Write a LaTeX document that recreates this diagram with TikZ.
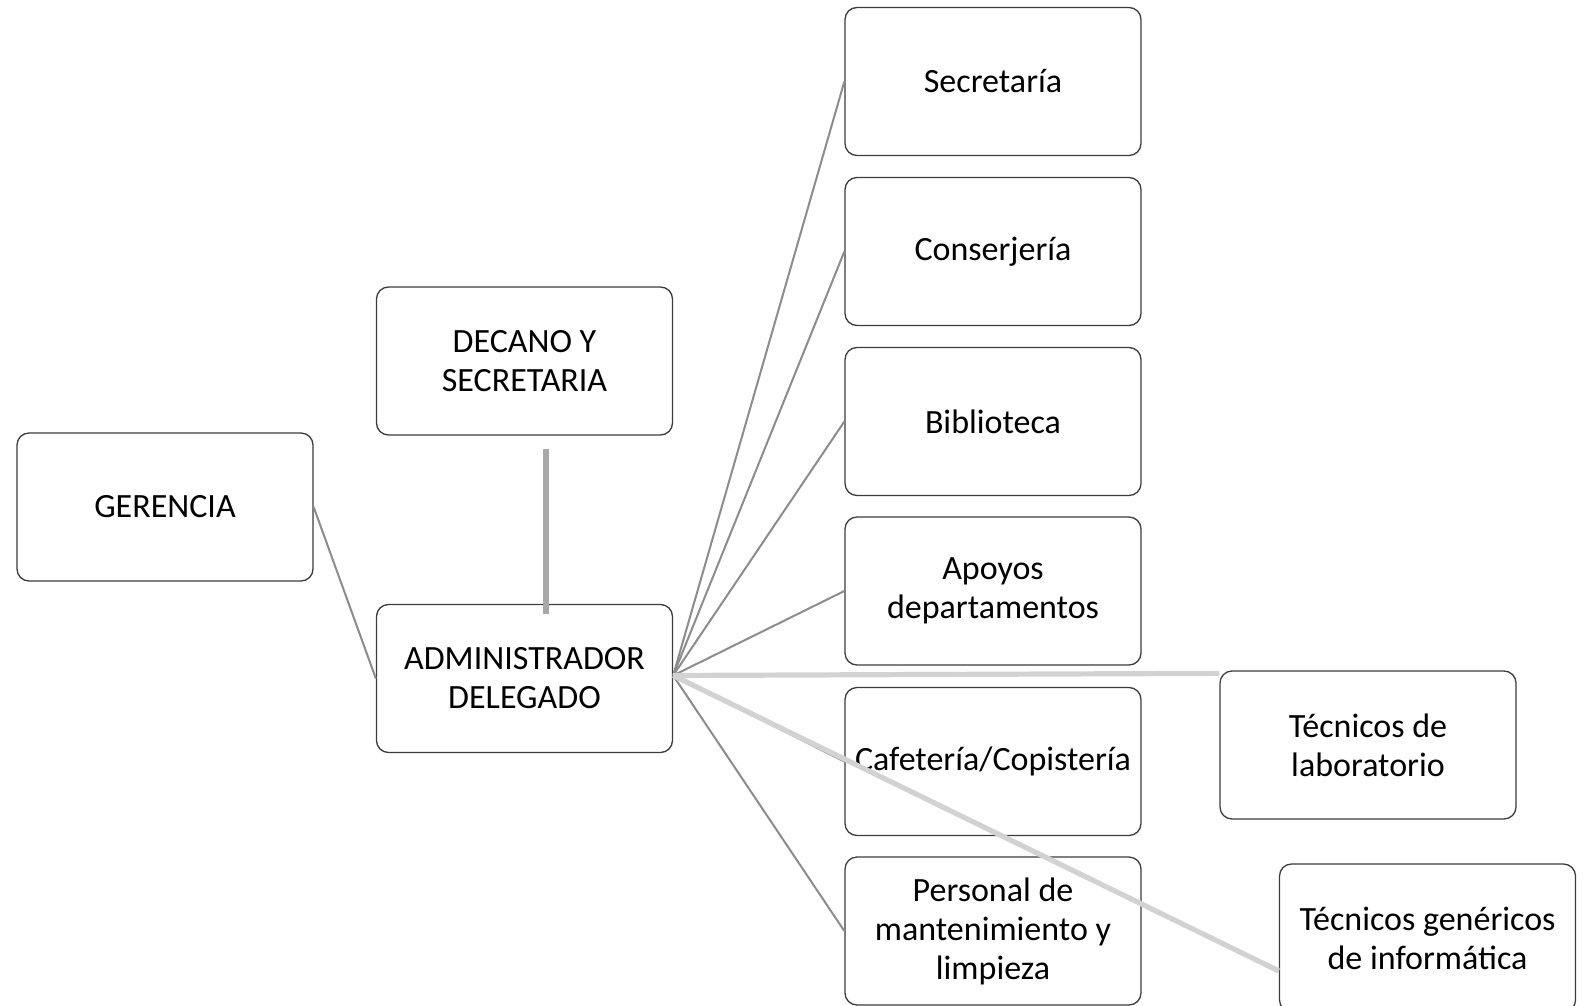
\documentclass[tikz,border=0pt]{standalone}
\usepackage{fontspec}
\setmainfont{Carlito}
\usetikzlibrary{calc}
\definecolor{boxLine}{RGB}{60,60,60}
\definecolor{thinLink}{RGB}{140,140,140}
\definecolor{barLink}{RGB}{168,168,168}
\definecolor{paleLink}{RGB}{210,210,210}
\tikzset{
  role/.style={draw=boxLine,line width=0.65pt,rounded corners=6pt,
    minimum width=148pt,minimum height=74pt,inner sep=0pt,
    align=center,font=\fontsize{17}{19.5}\selectfont},
  thin link/.style={draw=thinLink,line width=1pt},
  bar link/.style={draw=barLink,line width=2.6pt},
  pale link/.style={draw=paleLink,line width=2.6pt},
}

\begin{document}
\begin{tikzpicture}[x=0.5pt,y=-0.5pt]
\useasboundingbox (0,0) rectangle (1585,1006);
% left side
\node[role] (ger) at (165,507)   {GERENCIA};
\node[role] (dec) at (524.5,361) {DECANO Y\\SECRETARIA};
\node[role] (adm) at (524.5,678.5) {ADMINISTRADOR\\DELEGADO};
% right column
\node[role] (sec) at (993,81.5)  {Secretaría};
\node[role] (con) at (993,251.5) {Conserjería};
\node[role] (bib) at (993,421.5) {Biblioteca};
\node[role] (apo) at (993,591)   {Apoyos\\departamentos};
\node[role] (caf) at (993,761.5) {Cafetería/Copistería};
\node[role] (per) at (993,931)   {Personal de\\mantenimiento y\\limpieza};
\node[role] (lab) at (1368,745)  {Técnicos de\\laboratorio};
\node[role] (gen) at (1427.5,938) {Técnicos genéricos\\de informática};

\coordinate (admOut) at ($(adm.east)+(0,-3)$);
\coordinate (decEnd) at ($(dec.south)+(21.5,13)$);
\coordinate (admTop) at ($(adm.north)+(21.5,10)$);
\coordinate (labEnd) at ($(lab.north west)+(0,3)$);
\coordinate (genEnd) at ($(gen.west)+(0,33)$);

\draw[thin link] (ger.east) -- (adm.west);
\foreach \t in {sec,con,bib,apo,caf,per}
  \draw[thin link] (admOut) -- (\t.west);
\draw[bar link] (decEnd) -- (admTop);
\draw[pale link] (admOut) -- (labEnd);
\draw[pale link] (admOut) -- (genEnd);
\end{tikzpicture}
\end{document}
